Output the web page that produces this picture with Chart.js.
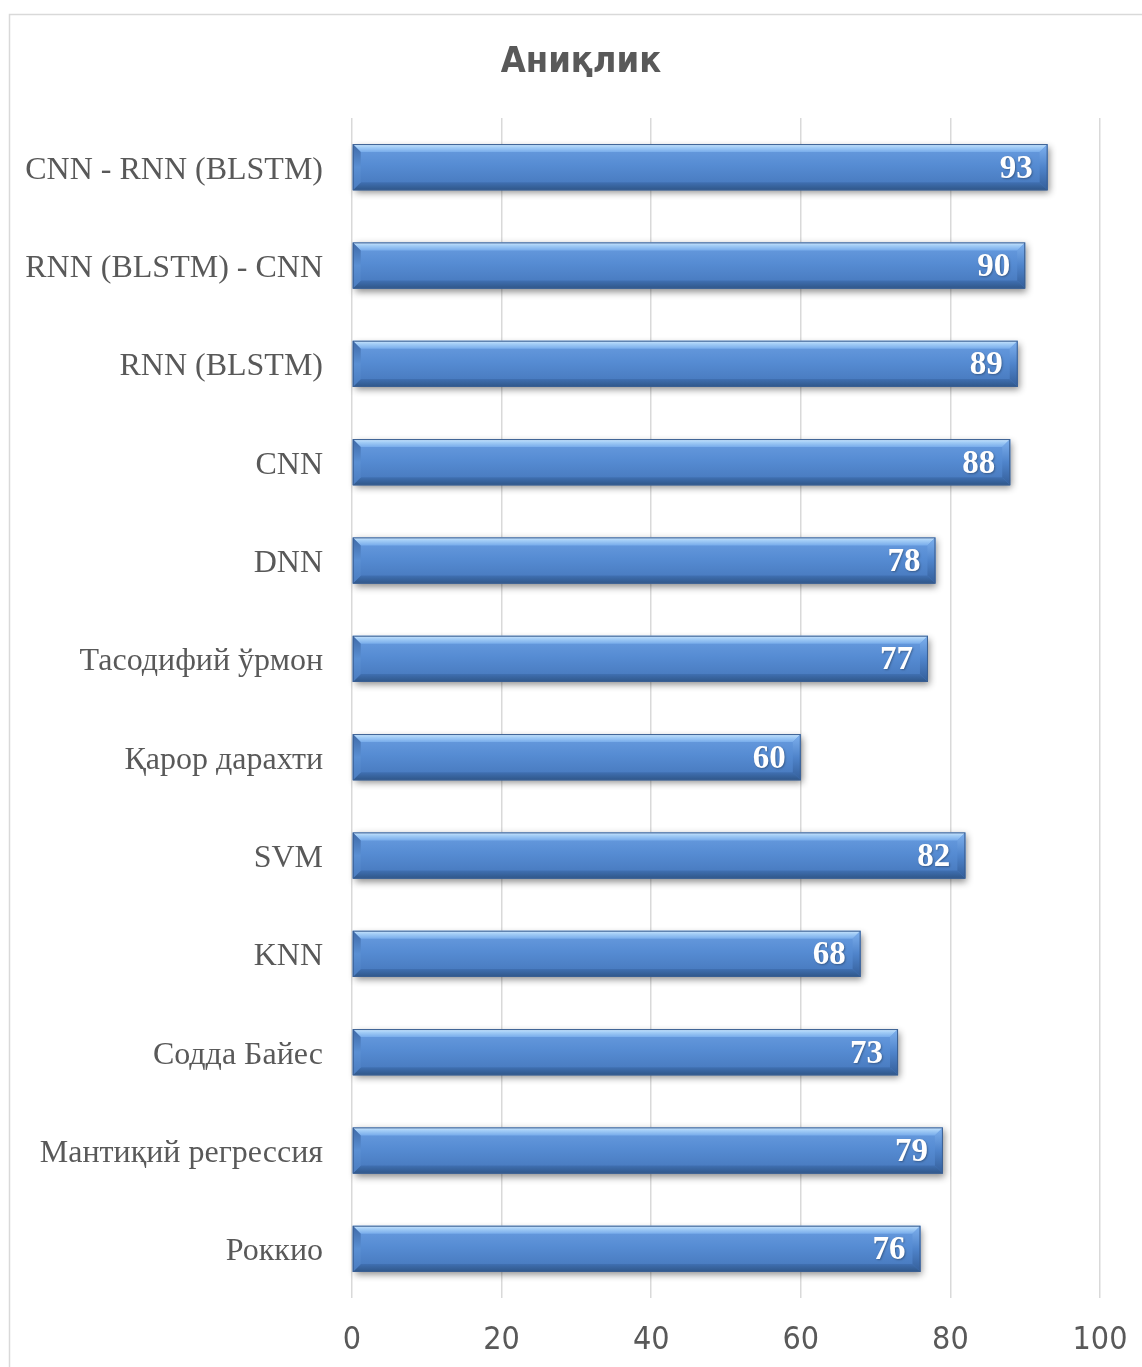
<!DOCTYPE html>
<html lang="uz">

<head>
    <meta charset="UTF-8">
    <meta name="viewport" content="width=device-width, initial-scale=1.0">
    <title>Аниқлик</title>
    <style>
        html, body { margin: 0; padding: 0; background: #fff; overflow: hidden; }
        #wrap { width: 1142px; height: 1367px; }
    </style>
</head>

<body>
    <div id="wrap">
        <canvas id="myChart" width="1142" height="1367"></canvas>
    </div>

    <script src="https://cdn.jsdelivr.net/npm/chart.js"></script>

    <script>
        // data
        let v_title = 'Аниқлик';
        let v_labels = ['CNN - RNN (BLSTM)', 'RNN (BLSTM) - CNN', 'RNN (BLSTM)', 'CNN', 'DNN',
            'Тасодифий ўрмон', 'Қарор дарахти', 'SVM', 'KNN', 'Содда Байес',
            'Мантиқий регрессия', 'Роккио'];
        let v_values = [93, 90, 89, 88, 78, 77, 60, 82, 68, 73, 79, 76];
        let v_ticks = [0, 20, 40, 60, 80, 100];

        // outer frame + title (title is centred on the frame, not the plot)
        const framePlugin = {
            id: 'frame',
            beforeDraw(chart) {
                let c = chart.ctx;
                c.save();
                c.strokeStyle = '#d9d9d9';
                c.lineWidth = 1.5;
                c.strokeRect(9.5, 14.5, 1300, 1400);
                c.fillStyle = '#595959';
                c.font = 'bold 36px "Liberation Sans Narrow", "DejaVu Sans Condensed", sans-serif';
                c.textAlign = 'center';
                c.textBaseline = 'middle';
                c.fillText(v_title, chart.width / 2 + 10, 63);
                c.restore();
            }
        };

        // bevel look for the bars + value labels
        const bevelPlugin = {
            id: 'bevel',
            afterDatasetsDraw(chart) {
                let c = chart.ctx;
                let meta = chart.getDatasetMeta(0);
                meta.data.forEach((bar, i) => {
                    let p = bar.getProps(['x', 'y', 'base', 'height'], true);
                    let x0 = p.base, x1 = p.x;
                    let y0 = p.y - p.height / 2, y1 = p.y + p.height / 2;
                    let b = 8;

                    c.save();
                    // shadow + main face
                    c.shadowColor = 'rgba(0,0,0,0.45)';
                    c.shadowBlur = 7;
                    c.shadowOffsetX = 2;
                    c.shadowOffsetY = 3;
                    let g = c.createLinearGradient(0, y0, 0, y1);
                    g.addColorStop(0, '#6a9de0');
                    g.addColorStop(0.45, '#568cd3');
                    g.addColorStop(1, '#4576ba');
                    c.fillStyle = g;
                    c.fillRect(x0, y0, x1 - x0, y1 - y0);
                    c.restore();

                    c.save();
                    // top bevel
                    let gt = c.createLinearGradient(0, y0, 0, y0 + b);
                    gt.addColorStop(0, '#cde6fd');
                    gt.addColorStop(0.4, '#a3cdf6');
                    gt.addColorStop(1, '#78aceb');
                    c.fillStyle = gt;
                    c.beginPath();
                    c.moveTo(x0, y0); c.lineTo(x1, y0); c.lineTo(x1 - b, y0 + b); c.lineTo(x0 + b, y0 + b);
                    c.closePath(); c.fill();
                    // bottom bevel
                    let gb = c.createLinearGradient(0, y1 - b, 0, y1);
                    gb.addColorStop(0, '#4070b2');
                    gb.addColorStop(1, '#2f5688');
                    c.fillStyle = gb;
                    c.beginPath();
                    c.moveTo(x0, y1); c.lineTo(x1, y1); c.lineTo(x1 - b, y1 - b); c.lineTo(x0 + b, y1 - b);
                    c.closePath(); c.fill();
                    // left bevel
                    let gl = c.createLinearGradient(0, y0, 0, y1);
                    gl.addColorStop(0, '#3f6aa8');
                    gl.addColorStop(0.5, '#5a8fd3');
                    gl.addColorStop(1, '#4a7cc0');
                    c.fillStyle = gl;
                    c.beginPath();
                    c.moveTo(x0, y0); c.lineTo(x0 + b, y0 + b); c.lineTo(x0 + b, y1 - b); c.lineTo(x0, y1);
                    c.closePath(); c.fill();
                    // right bevel
                    let gr = c.createLinearGradient(0, y0, 0, y1);
                    gr.addColorStop(0, '#7fb1ee');
                    gr.addColorStop(0.5, '#4f84cb');
                    gr.addColorStop(1, '#345e99');
                    c.fillStyle = gr;
                    c.beginPath();
                    c.moveTo(x1, y0); c.lineTo(x1 - b, y0 + b); c.lineTo(x1 - b, y1 - b); c.lineTo(x1, y1);
                    c.closePath(); c.fill();
                    // outline
                    c.strokeStyle = '#3b5f92';
                    c.lineWidth = 1;
                    c.strokeRect(x0 + 0.5, y0 + 0.5, x1 - x0 - 1, y1 - y0 - 1);

                    // value label
                    c.fillStyle = '#ffffff';
                    c.font = 'bold 33px "Liberation Serif", "Times New Roman", serif';
                    c.textAlign = 'right';
                    c.textBaseline = 'middle';
                    c.shadowColor = 'rgba(0,0,0,0.3)';
                    c.shadowBlur = 2;
                    c.shadowOffsetX = 1;
                    c.shadowOffsetY = 1;
                    c.fillText(String(v_values[i]), x1 - 15, p.y + 2);
                    c.restore();
                });
            }
        };

        let ctx = document.getElementById('myChart');
        new Chart(ctx, {
            type: 'bar',
            data: {
                labels: v_labels,
                datasets: [{
                    data: v_values,
                    backgroundColor: 'rgba(0,0,0,0)',
                    borderWidth: 0,
                    categoryPercentage: 1,
                    barPercentage: 0.47
                }]
            },
            options: {
                indexAxis: 'y',
                responsive: false,
                animation: false,
                layout: { padding: { left: 0, right: 42, top: 118, bottom: 0 } },
                plugins: {
                    legend: { display: false },
                    tooltip: { enabled: false },
                    title: { display: false }
                },
                scales: {
                    x: {
                        min: 0,
                        max: 100,
                        afterBuildTicks: (s) => { s.ticks = v_ticks.map(v => ({ value: v })); },
                        afterFit: (s) => { s.height = 69; s.paddingLeft = 0; s.paddingRight = 0; },
                        grid: { color: '#d9d9d9', lineWidth: 1.5, drawTicks: false },
                        border: { display: false },
                        ticks: {
                            color: '#595959',
                            padding: 23,
                            font: { family: '"Liberation Sans Narrow", "DejaVu Sans Condensed", sans-serif', size: 32 }
                        }
                    },
                    y: {
                        afterFit: (s) => { s.width = 352; },
                        grid: { display: false, drawTicks: false },
                        border: { display: false },
                        ticks: {
                            color: '#595959',
                            padding: 29,
                            labelOffset: 3,
                            font: { family: '"Liberation Serif", "Times New Roman", serif', size: 32 }
                        }
                    }
                }
            },
            plugins: [framePlugin, bevelPlugin]
        });
    </script>
</body>

</html>
